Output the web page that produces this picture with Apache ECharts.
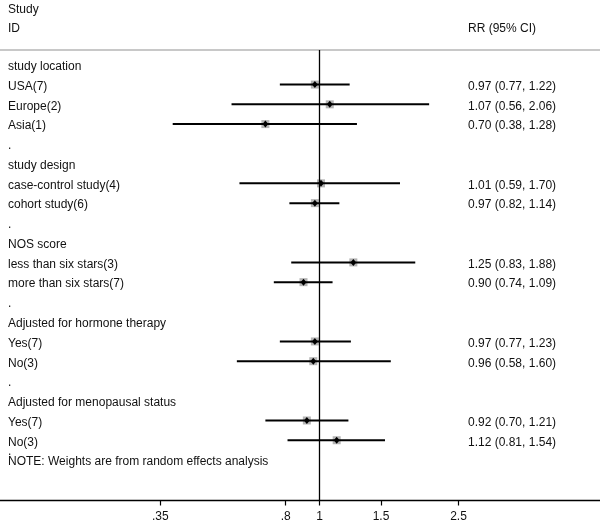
<!DOCTYPE html>
<html>
<head>
<meta charset="utf-8">
<script src="https://cdn.jsdelivr.net/npm/echarts@6/dist/echarts.min.js"></script>
<style>
html,body{margin:0;padding:0;background:#fff;}
#chart{width:600px;height:523px;}
</style>
</head>
<body>
<div id="chart"></div>
<script>
// ---- data ----
const rowLabels = ['study location','USA(7)','Europe(2)','Asia(1)','.',
  'study design','case-control study(4)','cohort study(6)','.',
  'NOS score','less than six stars(3)','more than six stars(7)','.',
  'Adjusted for hormone therapy','Yes(7)','No(3)','.',
  'Adjusted for menopausal status','Yes(7)','No(3)'];
const rr    = [null,0.97,1.07,0.70,null, null,1.01,0.97,null, null,1.25,0.90,null, null,0.97,0.96,null, null,0.92,1.12];
const lower = [null,0.77,0.56,0.38,null, null,0.59,0.82,null, null,0.83,0.74,null, null,0.77,0.58,null, null,0.70,0.81];
const upper = [null,1.22,2.06,1.28,null, null,1.70,1.14,null, null,1.88,1.09,null, null,1.23,1.60,null, null,1.21,1.54];
const tickValues = [0.35,0.8,1,1.5,2.5];
const tickLabels = ['.35','.8','1','1.5','2.5'];
const headerLeft = ['Study','ID'];
const headerRight = 'RR (95% CI)';
const noteText = 'NOTE: Weights are from random effects analysis';
const refValue = 1;

// ---- build ----
const FONT = '12px "Liberation Sans", Arial, sans-serif';
const TXT = '#111';
const LEFT_X = 8, RIGHT_X = 468, TEXT_DY = 2;
const logTicks = tickValues.map(Math.log);

const forestData = [];
rr.forEach((v,i)=>{ if(v!=null) forestData.push([Math.log(v), i, Math.log(lower[i]), Math.log(upper[i])]); });

const textData = [];
textData.push({value:[0,-2.87], left: headerLeft[0]});
textData.push({value:[0,-1.91], left: headerLeft[1], right: headerRight});
rowLabels.forEach((lab,i)=>{
  const t = {value:[0,i], left: lab};
  if(rr[i]!=null) t.right = rr[i].toFixed(2)+' ('+lower[i].toFixed(2)+', '+upper[i].toFixed(2)+')';
  textData.push(t);
});
textData.push({value:[0,19.5], left:'.'});
textData.push({value:[0,20], left: noteText});

const chart = echarts.init(document.getElementById('chart'), null, {renderer:'canvas'});
chart.setOption({
  animation:false,
  backgroundColor:'#fff',
  grid:{left:0,right:0,top:50,bottom:21.5,containLabel:false},
  xAxis:[{
    type:'value', min:-2.106, max:1.849, position:'bottom',
    axisLine:{show:true,onZero:false,lineStyle:{color:'#000',width:1.3}},
    axisTick:{show:true,customValues:logTicks,length:5,lineStyle:{color:'#000',width:1.2}},
    axisLabel:{customValues:logTicks,fontSize:12,color:TXT,margin:10.5,fontFamily:'"Liberation Sans", Arial, sans-serif',
      formatter:function(v){let best=0,d=1e9;logTicks.forEach((t,i)=>{if(Math.abs(t-v)<d){d=Math.abs(t-v);best=i;}});return tickLabels[best];}},
    splitLine:{show:false}
  },{
    type:'value', min:-2.106, max:1.849, position:'top',
    axisLine:{show:true,onZero:false,lineStyle:{color:'#c8c8c8',width:2}},
    axisTick:{show:false}, axisLabel:{show:false}, splitLine:{show:false}
  }],
  yAxis:{type:'value',inverse:true,min:-0.75,max:22.05,show:false},
  series:[{
    type:'custom',
    coordinateSystem:'cartesian2d',
    data:forestData,
    clip:false,
    renderItem:function(params,api){
      const c = api.coord([api.value(0),api.value(1)]);
      const l = api.coord([api.value(2),api.value(1)]);
      const u = api.coord([api.value(3),api.value(1)]);
      const s = 8, d = 2.9, h = 3.5;
      return {type:'group',children:[
        {type:'rect',shape:{x:c[0]-s/2,y:c[1]-s/2,width:s,height:s},style:{fill:'#b4b4b4'}},
        {type:'line',shape:{x1:l[0],y1:l[1],x2:u[0],y2:u[1]},style:{stroke:'#000',lineWidth:2}},
        {type:'polygon',shape:{points:[[c[0],c[1]-h],[c[0]+d,c[1]],[c[0],c[1]+h],[c[0]-d,c[1]]]},style:{fill:'#000'}}
      ]};
    },
    markLine:{silent:true,symbol:'none',label:{show:false},
      lineStyle:{color:'#000',width:1.3,type:'solid'},
      data:[{xAxis:Math.log(refValue)}]}
  },{
    type:'custom',
    coordinateSystem:'cartesian2d',
    data:textData,
    clip:false,
    renderItem:function(params,api){
      const item = textData[params.dataIndex];
      const y = api.coord([0,api.value(1)])[1] + TEXT_DY;
      const ch = [{type:'text',style:{text:item.left,x:LEFT_X,y:y,font:FONT,fill:TXT,align:'left',verticalAlign:'middle'}}];
      if(item.right) ch.push({type:'text',style:{text:item.right,x:RIGHT_X,y:y,font:FONT,fill:TXT,align:'left',verticalAlign:'middle'}});
      return {type:'group',children:ch};
    }
  }]
});
</script>
</body>
</html>
